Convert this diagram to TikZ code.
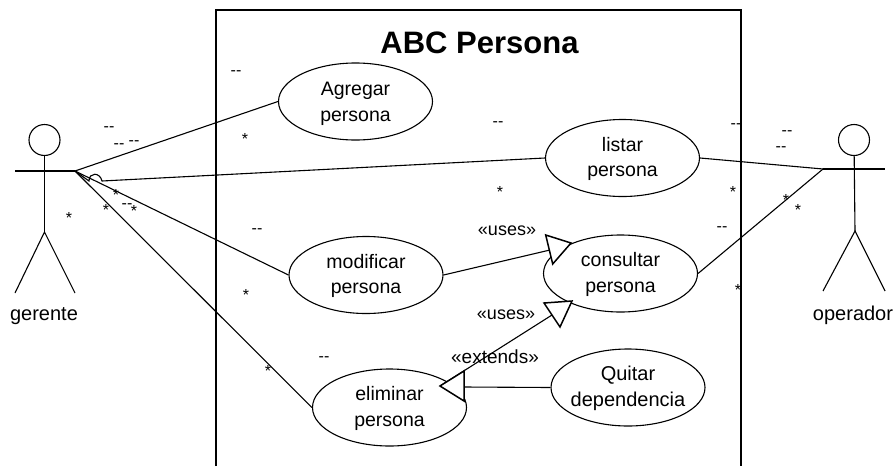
\documentclass[tikz,border=0pt]{standalone}
\usepackage{fontspec}
\setmainfont{Liberation Sans}
\newcommand{\tl}[1]{\rule{0pt}{#1pt}}
\tikzset{
  x=1pt,y=-1pt,
  usecase/.style={draw,ellipse,line width=1.1pt,minimum width=154pt,minimum height=77pt,inner sep=0pt,align=center,font=\fontsize{19.5}{25.5}\selectfont},
  lbl/.style={inner sep=0pt,font=\fontsize{18}{22}\selectfont},
  actorlbl/.style={inner sep=0pt,font=\fontsize{20}{24}\selectfont},
  mult/.style={inner sep=0pt,font=\fontsize{16}{18}\selectfont},
  conn/.style={line width=1.1pt},
  limb/.style={line width=1.1pt},
  tri/.style={draw,fill=white,line width=1.5pt,line join=miter},
}
\usetikzlibrary{shapes.geometric}
\begin{document}
\begin{tikzpicture}
\useasboundingbox (0,0) rectangle (896,466);
\fill[white] (0,0) rectangle (896,466);
% system boundary
\draw[line width=1.8pt] (216,466) -- (216,10) -- (741,10) -- (741,466);
\node[inner sep=0pt,font=\fontsize{31}{36}\selectfont\bfseries] (title) at (479.5,43) {ABC Persona};
% use cases
\node[usecase] (agregar) at (355.5,101.5) {\tl{18}Agregar\\persona};
\node[usecase] (listar) at (622.5,158) {\tl{16}listar\\persona};
\node[usecase] (modificar) at (366,275) {\tl{16}modificar\\persona};
\node[usecase] (consultar) at (620.5,273.5) {\tl{16}consultar\\persona};
\node[usecase] (eliminar) at (389.5,407.5) {\tl{16}eliminar\\persona};
\node[usecase,font=\fontsize{20}{25.5}\selectfont] (quitar) at (628,387.5) {\tl{16}Quitar\\\makebox[100pt][c]{dependencia}};
% gerente
\node[draw,circle,line width=1.1pt,minimum size=31pt,inner sep=0pt] (ghead) at (44.5,140) {};
\coordinate (gl) at (15,171);
\coordinate (gr) at (75,171);
\coordinate (ghip) at (44.5,232);
\coordinate (gfl) at (15,293);
\coordinate (gfr) at (75,293);
\draw[limb] (ghead) -- (ghip);
\draw[limb] (gl) -- (gr);
\draw[limb] (gfl) -- (ghip) -- (gfr);
\node[actorlbl] (glabel) at (44,316) {gerente};
% operador
\node[draw,circle,line width=1.1pt,minimum size=31pt,inner sep=0pt] (ohead) at (854,140) {};
\coordinate (ol) at (823,169);
\coordinate (or) at (885,169);
\coordinate (ohip) at (855,231);
\coordinate (ofl) at (823,291);
\coordinate (ofr) at (885,291);
\draw[limb] (ohead) -- (ohip);
\draw[limb] (ol) -- (or);
\draw[limb] (ofl) -- (ohip) -- (ofr);
\node[actorlbl] (olabel) at (853,315) {operador};
% actor links
\coordinate (hopa) at (89,181);
\coordinate (hopb) at (102,181);
\draw[conn] (gr) -- (agregar.west);
\draw[conn] (gr) -- (hopa) .. controls (89,172) and (100,172) .. (hopb) -- (listar.west);
\draw[conn] (gr) -- (modificar.west);
\draw[conn] (gr) -- (eliminar.west);
\draw[conn] (listar.east) -- (ol);
\draw[conn] (consultar.east) -- (ol);
% dependency lines
\coordinate (t1a) at (545.7,235);
\coordinate (t1b) at (552.7,264);
\coordinate (t1c) at (571,243);
\coordinate (t2a) at (544,303);
\coordinate (t2b) at (560,327);
\coordinate (t2c) at (572,301);
\coordinate (t3a) at (464,371);
\coordinate (t3b) at (464,401);
\coordinate (t3c) at (440,386);
\draw[conn] (modificar.east) -- (550,250);
\draw[conn] (t3c) -- (552,315);
\draw[conn] (quitar.west) -- (464,387);
\draw[tri] (t1a) -- (t1b) -- (t1c) -- cycle;
\draw[tri] (t2a) -- (t2b) -- (t2c) -- cycle;
\draw[tri] (t3a) -- (t3b) -- (t3c) -- cycle;
\node[lbl] (u1) at (507,231) {«uses»};
\node[lbl] (u2) at (506,315) {«uses»};
\node[lbl,font=\fontsize{19}{22}\selectfont] (e1) at (495,357) {«extends»};
% multiplicities
\foreach \i/\px/\py in {1/236/73,2/109/129,3/119/146,4/134/143,5/127/206,6/257/231,7/324/359,8/498/124,9/736/126,10/787/133,11/781/149,12/722/229}
  \node[mult] (d\i) at (\px,\py) {-{}-};
\foreach \i/\px/\py in {1/245/139,2/116/195,3/106/210,4/134/211,5/69/218,6/246/295,7/268/371,8/500/192,9/733/192,10/786/200,11/798/210,12/738/290}
  \node[mult] (s\i) at (\px,\py) {*};
\end{tikzpicture}
\end{document}
